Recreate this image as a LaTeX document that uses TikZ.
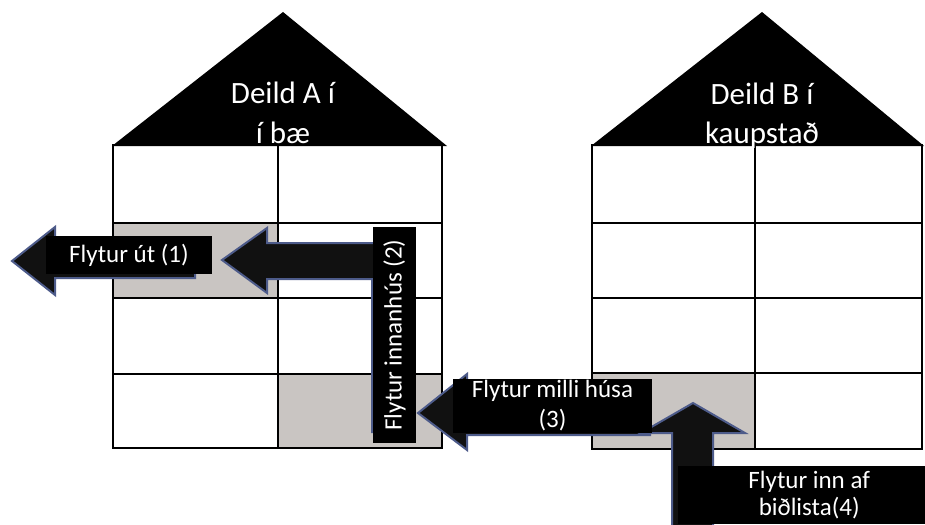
\documentclass[tikz,border=0pt]{standalone}
\usepackage{fontspec}
\setmainfont{Carlito}
\definecolor{cellgray}{HTML}{C9C5C2}
\definecolor{arrowedge}{HTML}{4D5B8A}
\definecolor{arrowfill}{HTML}{111111}

\begin{document}
\begin{tikzpicture}[x=1pt,y=-1pt,
  gridline/.style={draw=black, line width=1.6pt},
  roof/.style={fill=black},
  blockarrow/.style={fill=arrowfill, draw=arrowedge, line width=2pt, line join=miter},
  tag/.style={fill=black, text=white, font=\fontsize{25}{30}\selectfont,
              align=center, inner sep=0pt},
  rooftext/.style={text=white, font=\fontsize{31}{40}\selectfont, anchor=base, inner sep=0pt}]
\useasboundingbox (0,0) rectangle (925,524);

% ---------- House A ----------
\fill[cellgray] (113,223) rectangle (278,298);
\fill[cellgray] (278,374) rectangle (442,448);
\draw[gridline] (113,145) rectangle (442,448);
\draw[gridline] (278,145) -- (278,448);
\foreach \yy in {223,298,374} \draw[gridline] (113,\yy) -- (442,\yy);
\fill[roof] (112,146) -- (283,12) -- (447,146) -- cycle;
\node[rooftext] (roofA1) at (283,103) {Deild A í};
\node[rooftext] (roofA2) at (283,143) {í bæ};

% ---------- House B ----------
\fill[cellgray] (592,373) rectangle (755,449);
\draw[gridline] (592,145) rectangle (922,449);
\draw[gridline] (755,145) -- (755,449);
\foreach \yy in {223,298,373} \draw[gridline] (592,\yy) -- (922,\yy);
\fill[roof] (591,146) -- (762,12) -- (924,146) -- cycle;
\node[rooftext] (roofB1) at (762,104) {Deild B í};
\node[rooftext] (roofB2) at (762,143) {kaupstað};

% ---------- (1) moving out ----------
\draw[blockarrow] (12,261) -- (55,227) -- (55,244) -- (195,244) -- (195,278)
  -- (55,278) -- (55,295) -- cycle;
\node[tag, minimum width=166, minimum height=38] (lab1) at (129,255) {Flytur út (1)};

% ---------- (2) moving within the house ----------
\draw[blockarrow] (222,260) -- (267,228) -- (267,243) -- (412,243) -- (412,432)
  -- (372,432) -- (372,279) -- (267,279) -- (267,293) -- cycle;
\node[tag, rotate=90, minimum width=216, minimum height=43] (lab2) at (394.5,335)
  {Flytur innanhús (2)};

% ---------- (3) moving between houses, (4) moving in from the waiting list ----------
\draw[blockarrow] (418,413) -- (467,374) -- (467,392) -- (650,392) -- (650,435)
  -- (467,435) -- (467,450) -- cycle;
\draw[blockarrow] (693,403) -- (745,433) -- (713,433) -- (713,540) -- (672,540)
  -- (672,433) -- (641,433) -- cycle;
\node[tag, minimum width=199, minimum height=54] (lab3) at (552.5,406)
  {Flytur milli húsa\\(3)};
\node[tag, font=\fontsize{25}{27}\selectfont, minimum width=262, minimum height=58,
      anchor=north west] (lab4) at (678,466)
  {Flytur inn af\\biðlista(4)};
\end{tikzpicture}
\end{document}
